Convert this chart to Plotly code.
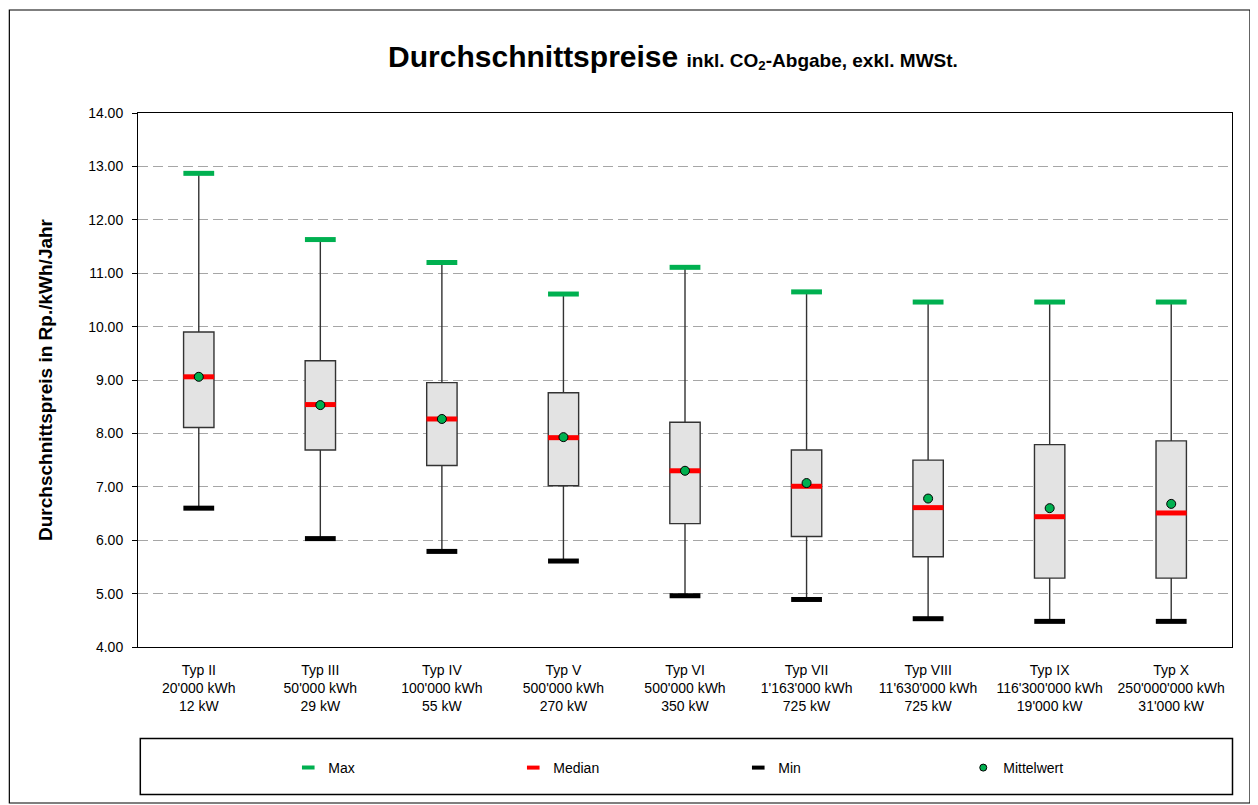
import plotly.graph_objects as go

categories = ["Typ II", "Typ III", "Typ IV", "Typ V", "Typ VI", "Typ VII", "Typ VIII", "Typ IX", "Typ X"]
consumption = ["20'000 kWh", "50'000 kWh", "100'000 kWh", "500'000 kWh", "500'000 kWh",
               "1'163'000 kWh", "11'630'000 kWh", "116'300'000 kWh", "250'000'000 kWh"]
power = ["12 kW", "29 kW", "55 kW", "270 kW", "350 kW", "725 kW", "725 kW", "19'000 kW", "31'000 kW"]

max_vals = [12.87, 11.63, 11.20, 10.61, 11.11, 10.65, 10.46, 10.46, 10.46]
q3_vals = [9.90, 9.36, 8.95, 8.76, 8.21, 7.69, 7.50, 7.79, 7.86]
median_vals = [9.06, 8.54, 8.27, 7.92, 7.30, 7.01, 6.61, 6.44, 6.51]
mean_vals = [9.06, 8.53, 8.27, 7.93, 7.30, 7.07, 6.78, 6.60, 6.68]
q1_vals = [8.11, 7.69, 7.40, 7.02, 6.31, 6.07, 5.69, 5.29, 5.29]
min_vals = [6.60, 6.03, 5.79, 5.61, 4.96, 4.89, 4.53, 4.48, 4.48]

GREEN = "#00B050"
RED = "#FF0000"
FONT = "Liberation Sans, Arial, sans-serif"

fig = go.Figure()

fig.add_trace(go.Box(
    x=categories, q1=q1_vals, median=median_vals, q3=q3_vals,
    lowerfence=min_vals, upperfence=max_vals,
    width=0.25, whiskerwidth=0,
    fillcolor="#E3E3E3", line=dict(color="#333333", width=1.4),
    showlegend=False, hoverinfo="skip",
))

bar_style = dict(symbol="line-ew", size=22)
fig.add_trace(go.Scatter(x=categories, y=max_vals, mode="markers", showlegend=False,
                         marker=dict(**bar_style, line=dict(width=5, color=GREEN))))
fig.add_trace(go.Scatter(x=categories, y=min_vals, mode="markers", showlegend=False,
                         marker=dict(**bar_style, line=dict(width=5, color="black"))))
fig.add_trace(go.Scatter(x=categories, y=median_vals, mode="markers", showlegend=False,
                         marker=dict(**bar_style, line=dict(width=5, color=RED))))
fig.add_trace(go.Scatter(x=categories, y=mean_vals, mode="markers", showlegend=False,
                         marker=dict(symbol="circle", size=9, color=GREEN,
                                     line=dict(width=1, color="black"))))

# legend entries
leg = [("Max", dict(symbol="line-ew", size=9, line=dict(width=4, color=GREEN))),
       ("Median", dict(symbol="line-ew", size=9, line=dict(width=4, color=RED))),
       ("Min", dict(symbol="line-ew", size=9, line=dict(width=4, color="black"))),
       ("Mittelwert", dict(symbol="circle", size=7, color=GREEN, line=dict(width=1, color="black")))]
for name, mk in leg:
    fig.add_trace(go.Scatter(x=[None], y=[None], mode="markers", name=name, marker=mk))

ticktext = [f"{c}<br>{e}<br>{p}" for c, e, p in zip(categories, consumption, power)]

# the page adds an 8px body margin; work in page coords and shift
OFF = 8
W, H = 1258 - OFF, 805 - OFF
L, R, T, B = 137.7 - OFF, 1232.0 - OFF, 113.0 - OFF, 647.0 - OFF
pw, ph = R - L, B - T

def px(x):
    return (x - OFF - L) / pw

def py(y):
    return (B - (y - OFF)) / ph

fig.update_layout(
    width=W, height=H,
    margin=dict(l=L, r=W - R, t=T, b=H - B, autoexpand=False),
    paper_bgcolor="white", plot_bgcolor="white",
    font=dict(family=FONT, color="black", size=14),
    title=dict(
        text="<b>Durchschnittspreise</b> <b><span style='font-size:19px'>inkl. CO<sub>2</sub>-Abgabe, exkl. MWSt.</span></b>",
        font=dict(size=30, family=FONT, color="black"),
        x=(673 - OFF) / W, xanchor="center", xref="container",
        y=1 - (56 - OFF) / H, yanchor="middle", yref="container",
    ),
    showlegend=True,
    legend=dict(orientation="h", x=px(288), xanchor="left", y=py(768), yanchor="middle",
                font=dict(size=14, family=FONT), entrywidth=180, entrywidthmode="pixels",
                bgcolor="rgba(0,0,0,0)", itemclick=False),
    shapes=[
        dict(type="rect", xref="paper", yref="paper", x0=px(9), x1=px(1250), y0=py(803), y1=py(10),
             line=dict(color="black", width=1.2), layer="below"),
        dict(type="rect", xref="paper", yref="paper", x0=px(140), x1=px(1232.5), y0=py(794.5), y1=py(738.5),
             line=dict(color="black", width=1.5), layer="below"),
    ],
)

fig.update_xaxes(
    type="category", tickmode="array", tickvals=categories, ticktext=ticktext,
    range=[-0.5, len(categories) - 0.5], autorange=False,
    showgrid=False, showline=True, mirror=True, linecolor="black", linewidth=1,
    ticks="", tickfont=dict(size=14, family=FONT), ticklabelstandoff=10,
)
fig.update_yaxes(
    range=[4, 14], autorange=False, dtick=1, tickformat=".2f",
    showgrid=True, gridcolor="#a6a6a6", gridwidth=1, griddash="10px,5px",
    showline=True, mirror=True, linecolor="black", linewidth=1,
    ticks="outside", ticklen=5, tickcolor="black", tickfont=dict(size=14, family=FONT),
    ticklabelstandoff=6, zeroline=False,
    title=dict(text="<b>Durchschnittspreis in Rp./kWh/Jahr</b>", font=dict(size=19, family=FONT),
               standoff=30),
)

fig.write_html("out.html")
